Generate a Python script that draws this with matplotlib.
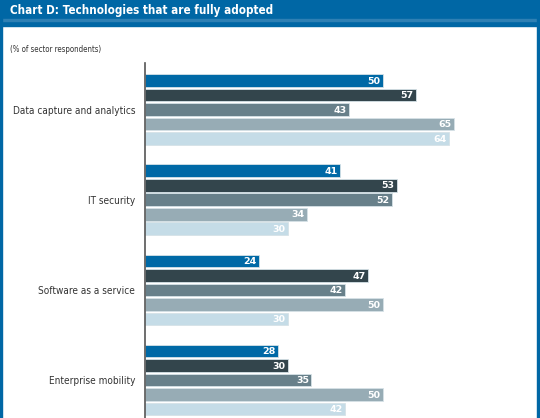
import matplotlib
matplotlib.use("Agg")
import numpy as np
import matplotlib.pyplot as plt
from matplotlib.patches import Rectangle

W, H = 540, 418

categories = ["Data capture and analytics", "IT security",
              "Software as a service", "Enterprise mobility"]
series_1 = [50, 41, 24, 28]
series_2 = [57, 53, 47, 30]
series_3 = [43, 52, 42, 35]
series_4 = [65, 34, 50, 50]
series_5 = [64, 30, 30, 42]
series = [series_1, series_2, series_3, series_4, series_5]
colors = ["#0069a6", "#33454c", "#68808a", "#97acb5", "#c5dce7"]

title = "Chart D: Technologies that are fully adopted"
subtitle = "(% of sector respondents)"

HEADER_BLUE = "#0067a5"
COND = dict(family="DejaVu Sans", fontstretch="condensed")


def fx(px):
    return px / W


def fy(px):
    return 1 - px / H


def fit_width(fig, t, width_px):
    # shrink/grow a text so its rendered width matches the reference
    r = fig.canvas.get_renderer()
    w = t.get_window_extent(r).width
    t.set_fontsize(t.get_fontsize() * width_px / w)


def main():
    fig = plt.figure(figsize=(W / 100, H / 100), dpi=100)
    fig.patch.set_facecolor("white")

    # header band and frame
    fig.patches.append(Rectangle((0, fy(25.5)), 1, 25.5 / H, transform=fig.transFigure,
                                 color=HEADER_BLUE, zorder=0))
    fig.patches.append(Rectangle((0, fy(21)), 1, 2 / H, transform=fig.transFigure,
                                 color="#2e80b4", zorder=1))
    fig.patches.append(Rectangle((0, 0), fx(2.2), 1, transform=fig.transFigure,
                                 color=HEADER_BLUE, zorder=1))
    fig.patches.append(Rectangle((fx(536.5), 0), fx(2.2), 1, transform=fig.transFigure,
                                 color=HEADER_BLUE, zorder=1))

    t = fig.text(fx(10), fy(10.5), title, color="white", fontweight="bold",
                 fontsize=11, va="center", ha="left", **COND)
    fit_width(fig, t, 262)
    s = fig.text(fx(10), fy(50), subtitle, color="#333333", fontsize=6,
                 va="center", ha="left", **COND)
    fit_width(fig, s, 92)

    ax = fig.add_axes([fx(145), 0, fx(536) - fx(145), 1 - 63 / H])

    pitch = 14.5
    first = 80.5
    gstep = 6.22
    bar_h = 0.875

    for g in range(len(categories)):
        for i, vals in enumerate(series):
            y = g * gstep + i
            ax.barh(y, vals[g], height=bar_h, color=colors[i],
                    edgecolor="#d6e2e7", linewidth=0.6, zorder=2)
            ax.text(vals[g] - 0.45, y + 0.05, str(vals[g]), ha="right", va="center",
                    color="white", fontsize=6.8, fontweight="bold", zorder=3)

    ax.set_ylim((418 - first) / pitch, (63 - first) / pitch)
    ax.set_xlim(0, (536 - 145) / 4.75)

    for sp in ["top", "right", "bottom"]:
        ax.spines[sp].set_visible(False)
    ax.spines["left"].set_color("#555555")
    ax.spines["left"].set_linewidth(1.2)
    ax.set_xticks([])
    ax.set_yticks([g * gstep + 2 for g in range(len(categories))])
    ax.set_yticklabels(categories, fontsize=8.5, color="#333333", **COND)
    ax.tick_params(axis="y", length=0, pad=7.2)
    ax.set_facecolor("none")

    fig.canvas.draw()
    lbl = ax.get_yticklabels()[0]
    r = fig.canvas.get_renderer()
    scale = 122 / lbl.get_window_extent(r).width
    for l in ax.get_yticklabels():
        l.set_fontsize(8.5 * scale)

    fig.savefig("out.png", dpi=100)
    plt.close(fig)


if __name__ == "__main__":
    main()
